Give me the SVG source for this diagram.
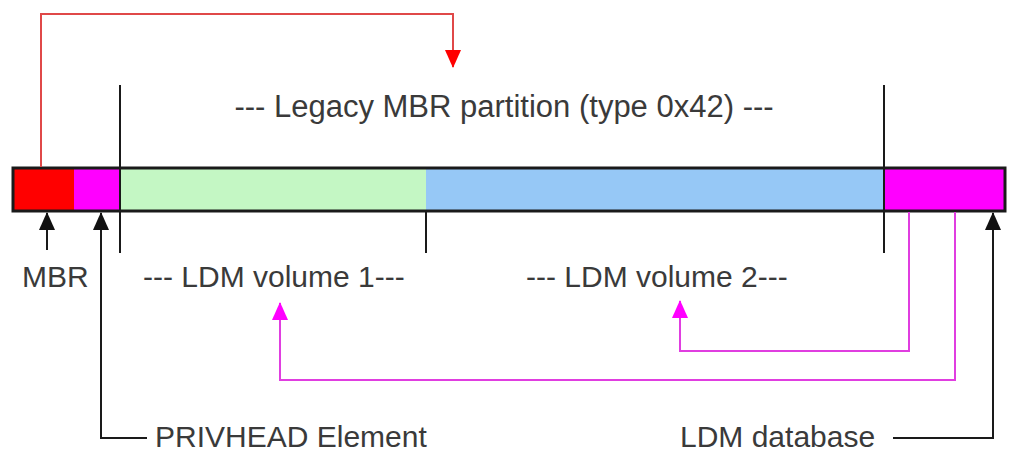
<svg xmlns="http://www.w3.org/2000/svg" width="1017" height="459" viewBox="0 0 1017 459">
<style>
.t{font-family:"Liberation Sans",Arial,sans-serif;font-size:30px;fill:#3a3a3a}
.blk{stroke:#1a1a1a;stroke-width:2;fill:none}
.mag{stroke:#e03ee0;stroke-width:2;fill:none}
.red{stroke:#e04848;stroke-width:2;fill:none}
</style>
<defs>
<marker id="ab" markerWidth="18" markerHeight="16" refX="17" refY="8" orient="auto" markerUnits="userSpaceOnUse" viewBox="0 0 18 16"><path d="M0,0 L18,8 L0,16 Z" fill="#111"/></marker>
<marker id="am" markerWidth="18" markerHeight="16" refX="17" refY="8" orient="auto" markerUnits="userSpaceOnUse" viewBox="0 0 18 16"><path d="M0,0 L18,8 L0,16 Z" fill="#ff00ff"/></marker>
<marker id="ar" markerWidth="18" markerHeight="16" refX="17" refY="8" orient="auto" markerUnits="userSpaceOnUse" viewBox="0 0 18 16"><path d="M0,0 L18,8 L0,16 Z" fill="#ff0000"/></marker>
</defs>
<rect width="1017" height="459" fill="#ffffff"/>
<g id="disk">
<rect x="13" y="168" width="61" height="43" fill="#ff0000"/>
<rect x="74" y="168" width="46" height="43" fill="#ff00ff"/>
<rect x="120" y="168" width="306" height="43" fill="#c4f7c4"/>
<rect x="426" y="168" width="459" height="43" fill="#96c8f6"/>
<rect x="885" y="168" width="120" height="43" fill="#ff00ff"/>
<rect x="13" y="168" width="992" height="43" fill="none" stroke="#1a1a1a" stroke-width="3"/>
</g>
<g id="dividers">
<line class="blk" x1="120" y1="85" x2="120" y2="253"/>
<line class="blk" x1="426" y1="211" x2="426" y2="253"/>
<line class="blk" x1="884" y1="85" x2="884" y2="253"/>
</g>
<g id="labels">
<text id="legacy" class="t" x="504" y="117" text-anchor="middle" style="font-size:31px">--- Legacy MBR partition (type 0x42) ---</text>
<text id="mbr" class="t" x="22" y="287">MBR</text>
<text id="vol1" class="t" x="143" y="287">--- LDM volume 1---</text>
<text id="vol2" class="t" x="526" y="287">--- LDM volume 2---</text>
<text id="privhead" class="t" x="155" y="447">PRIVHEAD Element</text>
<text id="ldmdb" class="t" x="680" y="447">LDM database</text>
</g>
<g id="connectors">
<path class="red" d="M41,167 V14 H453 V67" marker-end="url(#ar)"/>
<path class="blk" d="M47,250 V213" marker-end="url(#ab)"/>
<path class="blk" d="M147,438 H101 V213" marker-end="url(#ab)"/>
<path class="blk" d="M893,438 H993 V213" marker-end="url(#ab)"/>
<path class="mag" d="M909,212 V351 H680 V301" marker-end="url(#am)"/>
<path class="mag" d="M955,212 V380 H280 V303" marker-end="url(#am)"/>
</g>
</svg>
